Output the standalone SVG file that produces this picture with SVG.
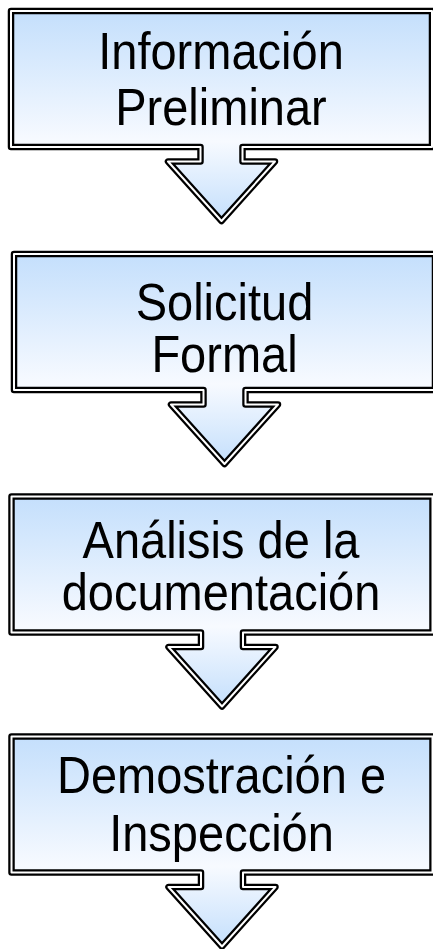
<svg xmlns="http://www.w3.org/2000/svg" xmlns:xlink="http://www.w3.org/1999/xlink" width="433" height="949" viewBox="0 0 433 949">
  <defs>
    <linearGradient id="fillGrad" x1="0" y1="0" x2="0" y2="1">
      <stop offset="0" stop-color="#c4dffc"/>
      <stop offset="0.62" stop-color="#f7faff"/>
      <stop offset="1" stop-color="#c4dffc"/>
    </linearGradient>
    <path id="callout" d="M11,11 H432 V147 H242.5 V161.5 H275 L221.5,221 L168,161.5 H200.5 V147 H11 Z"/>
    <style>
      .outer { fill: url(#fillGrad); stroke: #000; stroke-width: 6.5; stroke-linejoin: round; }
      .inner { fill: none; stroke: #fff; stroke-width: 2; stroke-linejoin: round; }
      .label { font-family: "Liberation Sans", Arial, sans-serif; font-size: 47px; fill: #000; text-anchor: middle; }
    </style>
  </defs>
  <rect width="433" height="949" fill="#fff"/>
  <g id="connectors"/>
  <g id="node1">
    <use xlink:href="#callout" class="outer"/>
    <use xlink:href="#callout" class="inner"/>
    <text class="label" transform="translate(221,69) scale(1,1.09)">Información</text>
    <text class="label" transform="translate(221,125) scale(1,1.09)">Preliminar</text>
  </g>
  <g id="node2">
    <use xlink:href="#callout" class="outer" transform="translate(3,243)"/>
    <use xlink:href="#callout" class="inner" transform="translate(3,243)"/>
    <text class="label" transform="translate(224.5,320) scale(1,1.09)">Solicitud</text>
    <text class="label" transform="translate(224.5,372) scale(1,1.09)">Formal</text>
  </g>
  <g id="node3">
    <use xlink:href="#callout" class="outer" transform="translate(0.5,485.5)"/>
    <use xlink:href="#callout" class="inner" transform="translate(0.5,485.5)"/>
    <text class="label" transform="translate(221,558) scale(1,1.09)">Análisis de la</text>
    <text class="label" transform="translate(221,610) scale(1,1.09)">documentación</text>
  </g>
  <g id="node4">
    <use xlink:href="#callout" class="outer" transform="translate(0.5,725.5)"/>
    <use xlink:href="#callout" class="inner" transform="translate(0.5,725.5)"/>
    <text class="label" transform="translate(221.5,793) scale(1,1.09)">Demostración e</text>
    <text class="label" transform="translate(221.5,851) scale(1,1.09)">Inspección</text>
  </g>
</svg>
